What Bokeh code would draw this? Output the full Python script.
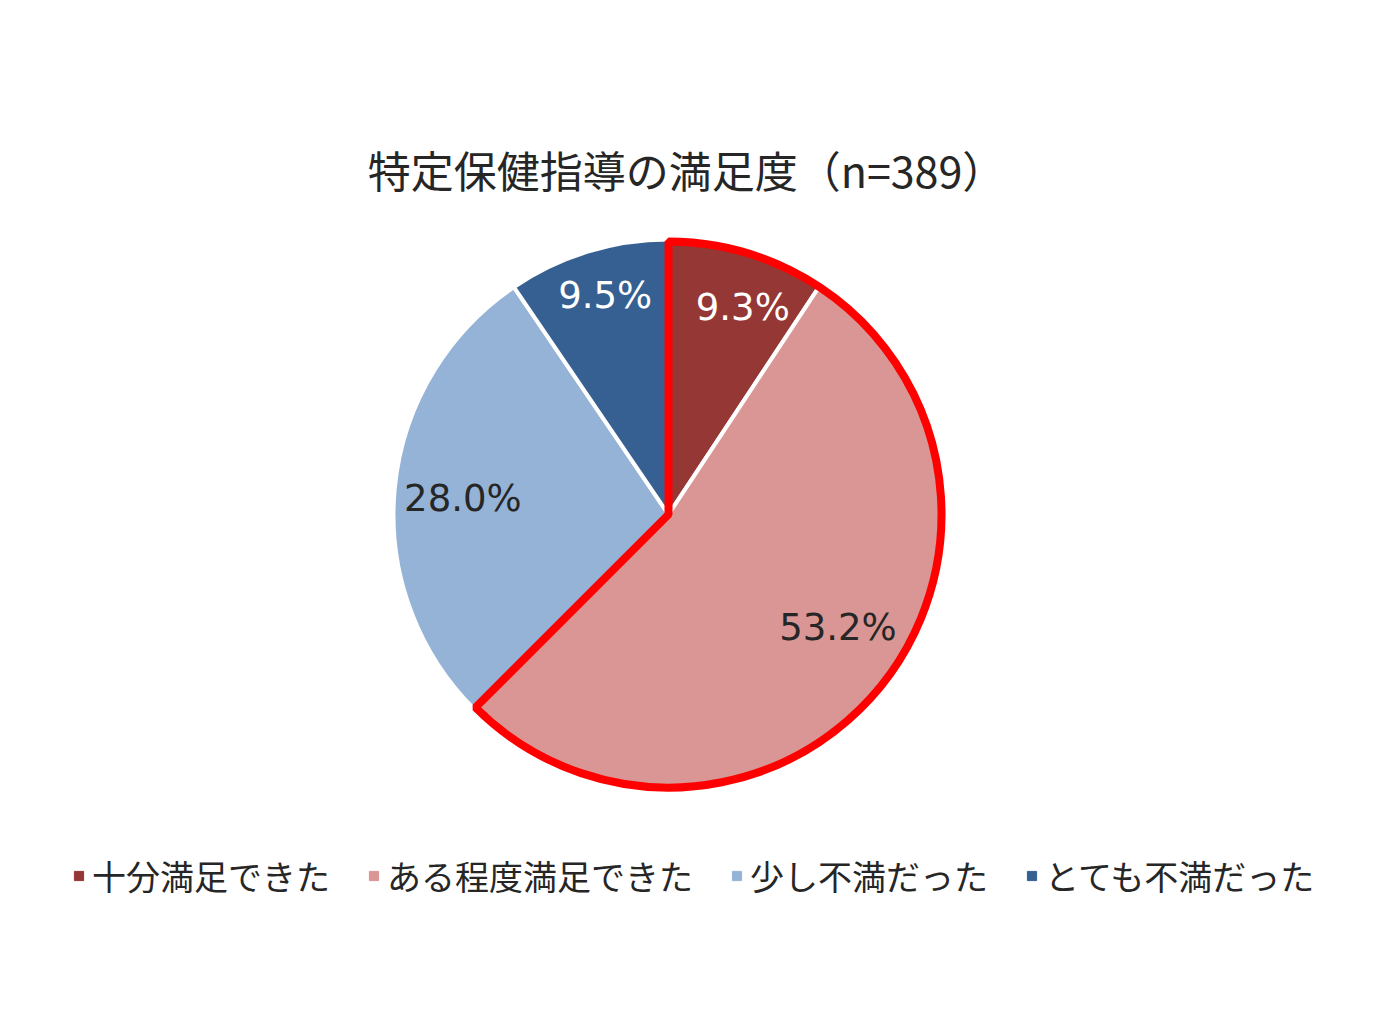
import math
from bokeh.plotting import figure
from bokeh.models import Range1d, Label, Legend, LegendItem
from bokeh.embed import file_html
from bokeh.resources import INLINE

title_text = "特定保健指導の満足度（n=389）"
categories = ["十分満足できた", "ある程度満足できた", "少し不満だった", "とても不満だった"]
values = [9.3, 53.2, 28.0, 9.5]
colors = ["#953735", "#D99694", "#95B3D7", "#376092"]
label_colors = ["white", "#262626", "#262626", "white"]

# label placement (fraction of radius, angle nudge in degrees) - layout only
label_r = [0.80, 0.74, 0.75, 0.83]
label_nudge = [-3, 5.6, 1, -1]

W, H = 1362, 1017
cx, cy, r = 668, 503, 275

# angles, clockwise from twelve o'clock
total = sum(values)
starts, ends = [], []
a = math.pi / 2
for v in values:
    starts.append(a)
    a -= v / total * 2 * math.pi
    ends.append(a)

p = figure(width=W, height=H, x_range=Range1d(0, W), y_range=Range1d(0, H),
           output_backend="svg", toolbar_location=None, min_border=0)
p.axis.visible = False
p.grid.visible = False
p.outline_line_color = None

p.wedge(x=cx, y=cy, radius=r, start_angle=ends, end_angle=starts,
        fill_color=colors, line_color="white", line_width=4)

# red highlight round the two "satisfied" slices
p.wedge(x=cx, y=cy, radius=r - 2, start_angle=ends[1], end_angle=starts[0],
        fill_color=None, line_color="#FF0000", line_width=8)

# data labels
lx, ly, lt = [], [], []
for v, s, e, f, n in zip(values, starts, ends, label_r, label_nudge):
    m = (s + e) / 2 + math.radians(n)
    lx.append(cx + f * r * math.cos(m))
    ly.append(cy + f * r * math.sin(m))
    lt.append(f"{v:.1f}%")
p.text(x=lx, y=ly, text=lt, text_color=label_colors, text_align="center",
       text_baseline="middle", text_font_size="37px",
       text_font={"value": "DejaVu Sans"})

p.add_layout(Label(x=686, y=849, text=title_text, text_align="center",
                   text_baseline="middle", text_font="Noto Sans CJK JP",
                   text_font_size="43px", text_color="#262626"))

# legend with small square keys (dummy points far off-canvas)
items = []
for name, c in zip(categories, colors):
    rr = p.scatter(x=[-1000], y=[-1000], marker="square", size=9,
                   fill_color=c, line_color=c)
    items.append(LegendItem(label=name, renderers=[rr]))
legend = Legend(items=items, orientation="horizontal", location=(67, 117),
                glyph_width=23, glyph_height=23, label_standoff=2, spacing=32,
                padding=0, margin=0, border_line_color=None,
                background_fill_alpha=0, label_text_font="Noto Sans CJK JP",
                label_text_font_size="34px", label_text_color="#262626")
p.add_layout(legend, "center")

open("out.html", "w").write(file_html(p, INLINE))
